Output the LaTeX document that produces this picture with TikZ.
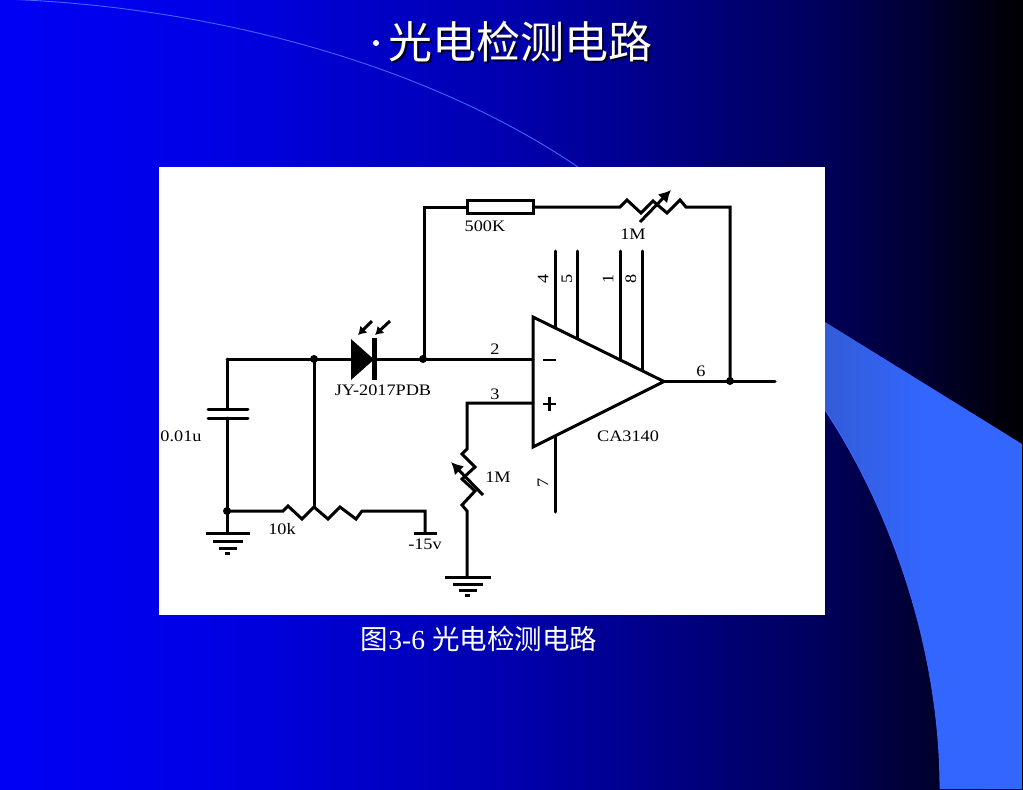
\documentclass[tikz,border=0pt]{standalone}
\usepackage{fontspec}
\usetikzlibrary{arrows.meta}
\setmainfont{Liberation Serif}
\newfontfamily\cjk{Noto Sans CJK SC}
\newfontfamily\lab[FakeStretch=1.14]{Liberation Serif}
\definecolor{bga}{rgb}{0,0,0.96}
\definecolor{bgb}{rgb}{0,0,0.9}
\definecolor{bgc}{rgb}{0,0,0.68}
\definecolor{bgd}{rgb}{0,0,0.36}
\definecolor{bge}{rgb}{0,0,0.2}
\definecolor{bgf}{rgb}{0,0,0}
\definecolor{wa}{rgb}{0.2,0.36,0.84}
\definecolor{wb}{rgb}{0.2,0.4,1}
\pgfdeclarehorizontalshading{bgshade}{100bp}{
  color(0bp)=(bga);
  color(25bp)=(bga);
  color(35bp)=(bgb);
  color(50bp)=(bgc);
  color(65bp)=(bgd);
  color(70bp)=(bge);
  color(75bp)=(bgf);
  color(100bp)=(bgf)}
\pgfdeclarehorizontalshading{wedgeshade}{100bp}{
  color(0bp)=(wa);
  color(25bp)=(wa);
  color(50bp)=(wb);
  color(100bp)=(wb)}
\definecolor{edgeblue}{rgb}{0.25,0.4,1}
\tikzset{
  x=1pt,y=-1pt,
  wire/.style={line width=3pt,black,line cap=round,line join=miter},
  dotj/.style={circle,fill=black,inner sep=0pt,minimum size=8pt},
  lbl/.style={inner sep=0pt,black,font=\fontsize{16}{16}\lab},
  pinlbl/.style={lbl,rotate=90},
  gnd/.style={line width=3pt,black},
  varrow/.style={line width=3pt,black,-{Latex[length=12pt,width=13pt]}},
  lightarrow/.style={line width=3pt,black,-{Latex[length=8pt,width=10pt]}},
}
\begin{document}
\begin{tikzpicture}
\shade[shading=bgshade] (0,0) rectangle (1023,790);
\useasboundingbox (0,0) rectangle (1023,790);
% slide decoration
\draw[edgeblue,line width=0.9pt] (0,-1) .. controls (200,5) and (420,60) .. (578,167);
\shade[shading=wedgeshade] (825,322) -- (1022,444) -- (1022,789) -- (940,789)
  .. controls (940,640) and (885,500) .. (825,410) -- cycle;
\draw[edgeblue,line width=0.9pt] (825,410) .. controls (885,500) and (940,640) .. (940,789);
% title
\node[inner sep=0pt,text=black!85!blue] (titleshadow) at (522,44) {\fontsize{44}{44}\cjk 光电检测电路};
\node[inner sep=0pt,text=white] (title) at (520,42) {\fontsize{44}{44}\cjk 光电检测电路};
\fill[white] (376,43) circle (3) coordinate (bul);
% caption
\node[inner sep=0pt,text=white,anchor=base] (caption) at (479,649) {\fontsize{27.5}{27.5}\selectfont{\cjk 图}3-6 {\cjk 光电检测电路}};
% white panel
\fill[white] (159,167) rectangle (825,615);
% coordinates
\coordinate (capl) at (227,359);
\coordinate (j1) at (314,359);
\coordinate (dA) at (351,359);
\coordinate (dK) at (374,359);
\coordinate (j2) at (423,359);
\coordinate (inm) at (533,359);
\coordinate (inp) at (533,403);
\coordinate (tl) at (424,207);
\coordinate (tr) at (730,207);
\coordinate (j3) at (730,381);
\coordinate (out) at (775,381);
\coordinate (tip) at (664,381);
\coordinate (j4) at (227,511);
\coordinate (rb) at (425,511);
% pins, behind the amplifier
\draw[wire] (555,251) -- (555,330);
\draw[wire] (577,251) -- (577,341);
\draw[wire] (620,251) -- (620,362);
\draw[wire] (642,251) -- (642,373);
\draw[wire] (555,436) -- (555,512);
% op amp
\draw[line width=3pt,black,fill=white,line join=miter] (533,317) -- (664,381.5) -- (533,447) -- cycle;
\draw[line width=2.6pt] (543,360) -- (556,360);
\draw[line width=2.8pt] (543,404) -- (556,404) (549.5,397) -- (549.5,411);
% main wires
\draw[wire] (capl) -- (j1) -- (dA);
\draw[wire] (dK) -- (j2) -- (inm);
\draw[wire] (424,359) -- (tl) -- (467,207);
\draw[wire,fill=white] (467,200) rectangle (533,213);
\draw[wire] (533,207) -- (620,207) -- (627,200) -- (641,213) -- (653,201) -- (667,213) -- (680,200) -- (686,207) -- (tr) -- (j3);
\draw[varrow] (640,222) -- (671,190);
\draw[wire] (tip) -- (j3) -- (out);
\node[dotj] (d1) at (j1) {};
\node[dotj] (d2) at (j2) {};
\node[dotj] (d3) at (j3) {};
\node[dotj] (d4) at (j4) {};
% diode
\fill[black] (351,339) -- (351,380) -- (374,359.5) -- cycle;
\draw[line width=4.5pt,black] (374.5,338) -- (374.5,380);
\draw[lightarrow] (372,321) -- (358,335);
\draw[lightarrow] (390,321) -- (375,335);
% capacitor and left branch
\draw[wire] (capl) -- (227,409);
\draw[wire] (208,409) -- (248,409);
\draw[wire] (208,418) -- (248,418);
\draw[wire] (227,418) -- (j4) -- (227,533);
\draw[gnd] (206,533) -- (250,533) (213,541) -- (243,541) (219,548) -- (237,548) (225,553) -- (230,553);
% pot
\draw[wire] (j1) -- (314,507);
\draw[wire] (j4) -- (283,511) -- (288,506) -- (302,519) -- (314,507) -- (328,519) -- (340,507) -- (356,519) -- (362,511) -- (rb) -- (425,533);
\draw[gnd] (414,533) -- (437,533);
% non-inverting input
\draw[wire] (inp) -- (467,403) -- (467,449) -- (462,454) -- (475,467) -- (462,479) -- (475,491) -- (462,505) -- (467,511) -- (467,577);
\draw[varrow] (483,495) -- (451,462);
\draw[gnd] (445,577) -- (491,577) (453,584) -- (483,584) (459,590) -- (477,590) (465,595) -- (470,595);
% labels
\node[lbl] (l500) at (485,226) {500K};
\node[lbl] (l1m) at (633,234) {1M};
\node[lbl] (l1m2) at (498,477) {1M};
\node[lbl] (lca) at (628,436) {CA3140};
\node[lbl] (ljy) at (383,390) {JY-2017PDB};
\node[lbl] (lc) at (181,436) {0.01u};
\node[lbl] (l10) at (282,529) {10k};
\node[lbl] (l15) at (425,544) {-15v};
\node[lbl] (p2) at (495,349) {2};
\node[lbl] (p3) at (495,394) {3};
\node[lbl] (p6) at (701,371) {6};
\node[pinlbl] (p4) at (543,279) {4};
\node[pinlbl] (p5) at (567,279) {5};
\node[pinlbl] (p1) at (608,279) {1};
\node[pinlbl] (p8) at (631,279) {8};
\node[pinlbl] (p7) at (543,483) {7};
\end{tikzpicture}
\end{document}
